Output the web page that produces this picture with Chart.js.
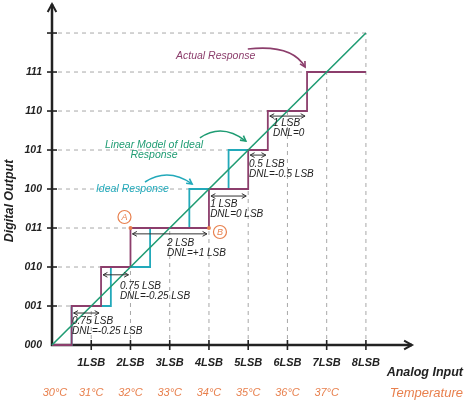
<!DOCTYPE html>
<html>
<head>
<title>ADC transfer function - DNL</title>
<script src="https://cdn.jsdelivr.net/npm/chart.js"></script>
<style>
  body { margin: 0; background: #fff; }
</style>
</head>
<body>
<canvas id="adcChart" width="465" height="400"></canvas>
<script>
// y axis: output codes, plus an unlabelled tick at the top
const codeLabels = ['000', '001', '010', '011', '100', '101', '110', '111', ''];
// x axis: input in LSB and the matching temperature
const lsbLabels = ['1LSB', '2LSB', '3LSB', '4LSB', '5LSB', '6LSB', '7LSB', '8LSB'];
const tempLabels = ['30°C', '31°C', '32°C', '33°C', '34°C', '35°C', '36°C', '37°C'];

// input (LSB) where the output steps up to code 1, 2, 3 ...
const actualEdges = [0.5, 1.25, 2.0, 4.0, 5.0, 5.5, 6.5];
const actualEnd = 8;
const idealEdges = [0.5, 1.5, 2.5, 3.5, 4.5];
const idealEnd = 5;
const linearModel = [0, 8];

// how far the dashed guides run
const hGuideEnds = [0.5, 1.25, 2.0, 3.5, 4.5, 5.5, 6.5, 8];   // codes 1..8
const vGuideTops = [1, 2, 3, 3, 4, 6, 7, 8];                   // 1LSB..8LSB

// step width / DNL notes for codes 1..6
const widthText = ['0.75 LSB', '0.75 LSB', '2 LSB', '1 LSB', '0.5 LSB', '1 LSB'];
const dnlText = ['DNL=-0.25 LSB', 'DNL=-0.25 LSB', 'DNL=+1 LSB', 'DNL=0 LSB', 'DNL=-0.5 LSB', 'DNL=0'];

const PURPLE = '#8c3e6c';
const CYAN = '#22a9ba';
const GREEN = '#1f9c73';
const ORANGE = '#e8804e';
const INK = '#222';

function steps(edges, end) {
  const pts = [{ x: 0, y: 0 }];
  edges.forEach((e, i) => pts.push({ x: e, y: i + 1 }));
  pts.push({ x: end, y: edges.length });
  return pts;
}

// where the notes sit (data units)
const noteSpots = [
  { ay: 0.82, tx: 0.51, ty: 0.62 },
  { ay: 1.80, tx: 1.73, ty: 1.51 },
  { ay: 2.85, tx: 2.93, ty: 2.62 },
  { ay: 3.82, tx: 4.03, ty: 3.62 },
  { ay: 4.87, tx: 5.02, ty: 4.64 },
  { ay: 5.87, tx: 5.63, ty: 5.69 }
];
const curveArrows = [
  { color: PURPLE, p: [[4.99, 7.59], [6.11, 7.72], [6.45, 7.13]] },
  { color: GREEN, p: [[3.77, 5.31], [4.33, 5.70], [4.94, 5.23]] },
  { color: CYAN, p: [[2.37, 4.18], [2.96, 4.56], [3.57, 4.13]] }
];

function head(ctx, x, y, ang, len) {
  ctx.beginPath();
  ctx.moveTo(x - len * Math.cos(ang - 0.5), y - len * Math.sin(ang - 0.5));
  ctx.lineTo(x, y);
  ctx.lineTo(x - len * Math.cos(ang + 0.5), y - len * Math.sin(ang + 0.5));
  ctx.stroke();
}

const drawing = {
  id: 'drawing',
  beforeDatasetsDraw(chart) {
    const ctx = chart.ctx, xs = chart.scales.x, ys = chart.scales.y;
    const X = v => xs.getPixelForValue(v), Y = v => ys.getPixelForValue(v);
    ctx.save();
    // dashed guides
    ctx.strokeStyle = '#a8a8a8';
    ctx.lineWidth = 1;
    ctx.setLineDash([4, 4]);
    hGuideEnds.forEach((e, i) => {
      ctx.beginPath(); ctx.moveTo(X(0) + 6, Y(i + 1)); ctx.lineTo(X(e), Y(i + 1)); ctx.stroke();
    });
    vGuideTops.forEach((t, i) => {
      ctx.beginPath(); ctx.moveTo(X(i + 1), Y(0) - 6); ctx.lineTo(X(i + 1), Y(t)); ctx.stroke();
    });
    ctx.setLineDash([]);

    // axes with arrow heads
    ctx.strokeStyle = INK;
    ctx.lineWidth = 2.5;
    ctx.beginPath();
    ctx.moveTo(X(0), ys.top + 1); ctx.lineTo(X(0), Y(0)); ctx.lineTo(xs.right - 1, Y(0));
    ctx.stroke();
    ctx.lineWidth = 2;
    head(ctx, X(0), ys.top + 1, -Math.PI / 2, 9);
    head(ctx, xs.right - 1, Y(0), 0, 9);

    // ticks
    ctx.lineWidth = 1.6;
    codeLabels.forEach((c, i) => {
      if (i === 0) return;
      ctx.beginPath(); ctx.moveTo(X(0) - 5, Y(i)); ctx.lineTo(X(0) + 5, Y(i)); ctx.stroke();
    });
    lsbLabels.forEach((l, i) => {
      ctx.beginPath(); ctx.moveTo(X(i + 1), Y(0) - 5); ctx.lineTo(X(i + 1), Y(0) + 5); ctx.stroke();
    });

    // tick labels
    ctx.fillStyle = INK;
    ctx.font = 'italic bold 10.5px "Liberation Sans"';
    ctx.textAlign = 'right';
    ctx.textBaseline = 'middle';
    codeLabels.forEach((c, i) => ctx.fillText(c, X(0) - 10, Y(i)));
    ctx.font = 'italic bold 11px "Liberation Sans"';
    ctx.textAlign = 'center';
    lsbLabels.forEach((l, i) => ctx.fillText(l, X(i + 1), Y(0) + 18));
    ctx.fillStyle = ORANGE;
    ctx.font = 'italic 11px "Liberation Sans"';
    tempLabels.forEach((t, i) => ctx.fillText(t, X(i) + (i === 0 ? 3 : 0), Y(0) + 48));

    // axis titles
    ctx.fillStyle = INK;
    ctx.font = 'italic bold 12.5px "Liberation Sans"';
    ctx.textAlign = 'right';
    ctx.fillText('Analog Input', 463, Y(0) + 28);
    ctx.fillStyle = ORANGE;
    ctx.font = 'italic 13px "Liberation Sans"';
    ctx.fillText('Temperature', 463, Y(0) + 48);
    ctx.save();
    ctx.translate(10, 201);
    ctx.rotate(-Math.PI / 2);
    ctx.textAlign = 'center';
    ctx.fillStyle = INK;
    ctx.font = 'italic bold 12.5px "Liberation Sans"';
    ctx.fillText('Digital Output', 0, 0);
    ctx.restore();
    ctx.restore();
  },
  afterDatasetsDraw(chart) {
    const ctx = chart.ctx, xs = chart.scales.x, ys = chart.scales.y;
    const X = v => xs.getPixelForValue(v), Y = v => ys.getPixelForValue(v);
    ctx.save();
    ctx.textBaseline = 'middle';

    // width / DNL notes with double arrows
    noteSpots.forEach((s, i) => {
      const a = X(actualEdges[i]) + 2, b = X(actualEdges[i + 1]) - 2, y = Y(s.ay);
      ctx.strokeStyle = '#333';
      ctx.lineWidth = 1;
      ctx.beginPath(); ctx.moveTo(a, y); ctx.lineTo(b, y); ctx.stroke();
      head(ctx, a, y, Math.PI, 5);
      head(ctx, b, y, 0, 5);
      ctx.fillStyle = INK;
      ctx.font = 'italic 10px "Liberation Sans"';
      ctx.textAlign = 'left';
      ctx.fillText(widthText[i], X(s.tx), Y(s.ty));
      ctx.fillText(dnlText[i], X(s.tx), Y(s.ty) + 10);
    });

    // response labels
    ctx.font = 'italic 10.5px "Liberation Sans"';
    ctx.fillStyle = PURPLE;
    ctx.textAlign = 'left';
    ctx.fillText('Actual Response', X(3.16), Y(7.41));
    ctx.fillStyle = GREEN;
    ctx.textAlign = 'center';
    ctx.fillText('Linear Model of Ideal', X(2.6), Y(5.13));
    ctx.fillText('Response', X(2.6), Y(4.87));
    ctx.fillStyle = CYAN;
    ctx.textAlign = 'left';
    ctx.fillText('Ideal Response', X(1.12), Y(4.0));

    // curved pointers
    curveArrows.forEach(c => {
      const [p0, p1, p2] = c.p.map(p => [X(p[0]), Y(p[1])]);
      ctx.strokeStyle = c.color;
      ctx.lineWidth = 1.6;
      ctx.beginPath();
      ctx.moveTo(p0[0], p0[1]);
      ctx.quadraticCurveTo(p1[0], p1[1], p2[0], p2[1]);
      ctx.stroke();
      head(ctx, p2[0], p2[1], Math.atan2(p2[1] - p1[1], p2[0] - p1[0]), 6);
    });

    // points A and B: both ends of the widest step (code 3)
    const ab = [[actualEdges[2], 'A', -6, -11], [actualEdges[3], 'B', 11, 4]];
    ab.forEach(([v, letter, dx, dy]) => {
      const px = X(v), py = Y(3);
      ctx.fillStyle = ORANGE;
      ctx.beginPath(); ctx.arc(px, py, 2, 0, Math.PI * 2); ctx.fill();
      ctx.strokeStyle = ORANGE;
      ctx.lineWidth = 1.2;
      ctx.beginPath(); ctx.arc(px + dx, py + dy, 6.5, 0, Math.PI * 2); ctx.stroke();
      ctx.font = 'italic 9px "Liberation Sans"';
      ctx.textAlign = 'center';
      ctx.fillText(letter, px + dx, py + dy + 0.5);
    });
    ctx.restore();
  }
};

// Chart.js paints dataset 0 last, so the list runs top layer first
new Chart(document.getElementById('adcChart'), {
  type: 'scatter',
  data: {
    datasets: [
      {
        label: 'Linear Model of Ideal Response',
        data: linearModel.map(v => ({ x: v, y: v })),
        showLine: true,
        borderColor: GREEN, borderWidth: 1.6, pointRadius: 0, clip: false
      },
      {
        label: 'Actual Response',
        data: steps(actualEdges, actualEnd),
        showLine: true, stepped: 'before',
        borderColor: PURPLE, borderWidth: 1.8, pointRadius: 0, clip: false
      },
      {
        label: 'Ideal Response',
        data: steps(idealEdges, idealEnd),
        showLine: true, stepped: 'before',
        borderColor: CYAN, borderWidth: 1.8, pointRadius: 0, clip: false
      }
    ]
  },
  options: {
    responsive: false,
    animation: false,
    layout: { padding: { left: 52, right: 52, top: 3, bottom: 55 } },
    scales: {
      x: { type: 'linear', display: false, min: 0, max: 9.2 },
      y: { type: 'linear', display: false, min: 0, max: 8.77 }
    },
    plugins: { legend: { display: false }, tooltip: { enabled: false } }
  },
  plugins: [drawing]
});
</script>
</body>
</html>
